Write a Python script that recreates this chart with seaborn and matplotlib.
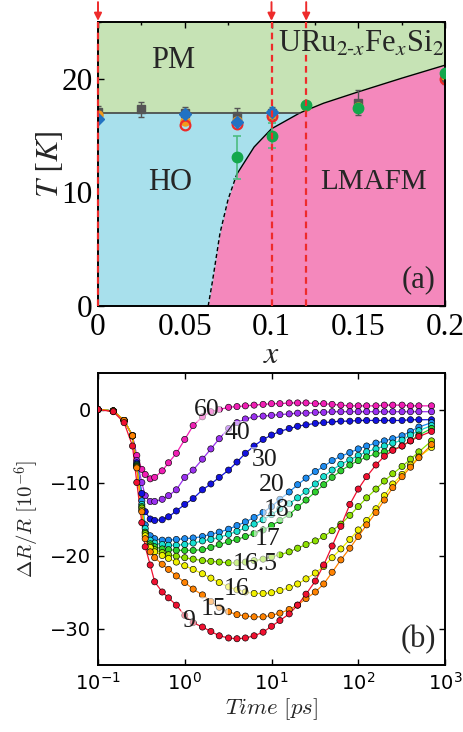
import numpy as np
import pandas as pd
import matplotlib
matplotlib.use("Agg")
import matplotlib.pyplot as plt
from matplotlib.ticker import MultipleLocator, FuncFormatter, NullLocator
import seaborn as sns

# ================= (a) phase diagram =================
x_bound = [0.0635, 0.066, 0.0703, 0.075, 0.080, 0.09, 0.100, 0.1164, 0.13, 0.150, 0.175, 0.2]
T_bound = [0.0, 2.2, 6.4, 9.4, 11.6, 14.0, 15.6, 17.0, 17.85, 18.85, 20.05, 21.2]
T_HO = 17.0
x_arrows = [0.0, 0.1, 0.12]

x_sq = [0.0, 0.025, 0.05, 0.08, 0.1, 0.15, 0.2]
T_sq = [17.1, 17.3, 17.0, 16.7, 17.0, 17.9, 20.1]
err_sq = [0.5, 0.7, 0.5, 0.7, 0.5, 1.1, 0.6]

x_or = [0.0, 0.05, 0.08, 0.1, 0.12, 0.15, 0.2]
T_or = [16.8, 16.3, 16.3, 16.9, 17.6, 17.5, 20.3]

x_red = [0.05, 0.08, 0.1, 0.2]
T_red = [15.9, 16.0, 16.7, 20.0]

x_dia = [0.0, 0.05, 0.08, 0.1]
T_dia = [16.5, 16.9, 16.2, 17.1]

x_gr = [0.08, 0.1, 0.12, 0.15, 0.2]
T_gr = [13.1, 15.0, 17.7, 17.4, 20.5]
err_gr = [1.9, 1.1, 0.0, 0.0, 0.0]

# ================= (b) transient reflectivity =================
time_ps = [0.1, 0.15, 0.2, 0.25, 0.28, 0.32, 0.35, 0.4, 0.45, 0.55,
           0.65, 0.8, 1.0, 1.25, 1.6, 2.0, 2.5, 3.2, 4.0, 5.0,
           6.3, 8.0, 10, 12.5, 16, 20, 25, 32, 40, 50,
           63, 80, 100, 125, 160, 200, 250, 320, 400, 500, 700]

temps = ["60", "40", "30", "20", "18", "17", "16.5", "16", "15", "9"]
colors = ["#f01eb4", "#9a30f0", "#1212e0", "#1e8cf0", "#18e0d0",
          "#2ed02e", "#8ee000", "#f0f000", "#ff8200", "#f01030"]

dR_60 = [0, -0.2, -1.5, -3.6, -6.3, -8.2, -8.9, -9.5, -9.3, -8.4,
         -7.3, -6.0, -4.1, -2.2, -1.0, -0.3, 0.0, 0.3, 0.4, 0.5,
         0.6, 0.7, 0.8, 0.8, 0.9, 0.9, 0.9, 0.8, 0.8, 0.7,
         0.6, 0.5, 0.5, 0.5, 0.5, 0.6, 0.6, 0.6, 0.5, 0.5, 0.5]
dR_40 = [0, -0.2, -1.5, -3.6, -7.0, -10.0, -11.8, -12.6, -12.6, -12.3,
         -11.8, -11.0, -9.3, -8.3, -6.8, -5.4, -4.0, -2.6, -1.8, -1.3,
         -1.0, -0.9, -0.8, -0.7, -0.6, -0.5, -0.5, -0.4, -0.4, -0.3,
         -0.3, -0.3, -0.3, -0.3, -0.3, -0.3, -0.3, -0.3, -0.3, -0.3, -0.3]
dR_30 = [0, -0.2, -1.5, -3.6, -7.3, -11.5, -14.0, -15.0, -15.2, -15.1,
         -14.7, -13.9, -13.0, -12.2, -11.0, -10.2, -9.3, -8.3, -7.2, -6.0,
         -5.0, -4.1, -3.5, -3.0, -2.6, -2.3, -2.1, -1.9, -1.8, -1.7,
         -1.6, -1.6, -1.5, -1.5, -1.5, -1.5, -1.5, -1.5, -1.4, -1.4, -1.4]
dR_20 = [0, -0.2, -1.5, -3.6, -7.5, -12.5, -15.8, -17.3, -17.7, -17.9,
         -17.9, -17.8, -17.7, -17.6, -17.4, -17.1, -16.8, -16.4, -15.9, -15.4,
         -14.8, -14.1, -13.3, -12.3, -11.3, -10.3, -9.4, -8.5, -7.8, -7.0,
         -6.4, -5.9, -5.4, -5.0, -4.6, -4.3, -4.0, -3.6, -3.0, -2.4, -1.8]
dR_18 = [0, -0.2, -1.5, -3.6, -7.6, -13.0, -16.3, -17.9, -18.3, -18.5,
         -18.6, -18.6, -18.5, -18.3, -18.0, -17.8, -17.5, -17.1, -16.7, -16.2,
         -15.7, -15.1, -14.4, -13.6, -12.9, -12.1, -11.2, -10.2, -9.2, -8.3,
         -7.5, -6.9, -6.3, -5.8, -5.4, -5.0, -4.6, -4.2, -3.5, -2.9, -2.2]
dR_17 = [0, -0.2, -1.5, -3.6, -7.7, -13.3, -16.8, -18.4, -18.8, -19.1,
         -19.2, -19.3, -19.3, -19.3, -19.2, -18.9, -18.5, -18.1, -17.8, -17.4,
         -17.0, -16.5, -15.9, -15.2, -14.4, -13.4, -12.4, -11.3, -10.3, -9.3,
         -8.4, -7.6, -7.0, -6.5, -6.1, -5.8, -5.5, -5.0, -4.3, -3.5, -2.6]
dR_16p5 = [0, -0.2, -1.5, -3.6, -7.8, -13.5, -17.0, -18.7, -19.2, -19.6,
           -19.9, -20.1, -20.3, -20.5, -20.7, -20.8, -20.9, -21.0, -21.0, -20.9,
           -20.7, -20.5, -20.2, -19.9, -19.5, -19.0, -18.5, -18.0, -17.4, -16.6,
           -15.7, -14.5, -13.3, -12.1, -10.9, -9.8, -8.8, -7.8, -6.8, -5.8, -4.3]
dR_16 = [0, -0.2, -1.5, -3.6, -7.9, -13.8, -17.3, -18.9, -19.5, -20.0,
         -20.4, -20.9, -21.4, -21.9, -22.5, -23.1, -23.7, -24.3, -24.7, -25.0,
         -25.2, -25.2, -25.1, -24.8, -24.4, -23.9, -23.2, -22.4, -21.5, -20.3,
         -19.1, -17.8, -16.5, -15.2, -13.6, -11.8, -10.2, -8.9, -7.6, -6.5, -5.2]
dR_15 = [0, -0.2, -1.5, -3.6, -8.0, -14.0, -17.7, -19.5, -20.3, -21.2,
         -21.9, -22.8, -23.7, -24.6, -25.4, -26.3, -27.1, -27.7, -28.1, -28.3,
         -28.4, -28.4, -28.2, -27.9, -27.4, -26.8, -25.9, -25.0, -23.9, -22.3,
         -20.6, -19.0, -17.4, -15.8, -14.1, -12.4, -10.7, -9.2, -7.9, -6.6, -4.8]
dR_9 = [0, -0.3, -1.8, -5.0, -10.0, -15.5, -18.8, -21.3, -23.6, -25.0,
        -25.8, -26.8, -28.2, -29.2, -29.8, -30.4, -31.0, -31.3, -31.4, -31.3,
        -31.0, -30.5, -29.7, -28.9, -28.0, -26.8, -25.3, -23.5, -21.3, -18.7,
        -16.0, -13.0, -10.9, -9.2, -7.6, -6.4, -5.6, -5.0, -4.3, -3.7, -3.0]

label_t = [1.79, 4.0, 8.4, 10.0, 11.5, 9.1, 6.5, 4.0, 2.14, 1.1]
label_v = [0.0, -3.2, -6.85, -10.3, -13.7, -17.8, -21.2, -24.6, -27.3, -29.0]

curves = [dR_60, dR_40, dR_30, dR_20, dR_18, dR_17, dR_16p5, dR_16, dR_15, dR_9]
df = pd.concat([pd.DataFrame({"Time": time_ps, "dR": c, "T": t})
                for t, c in zip(temps, curves)], ignore_index=True)
palette = dict(zip(temps, colors))

# ================= style =================
sns.set_theme(style="ticks")
plt.rcParams.update({
    "font.family": ["DejaVu Sans"],
    "axes.linewidth": 1.4,
    "axes.edgecolor": "black",
    "xtick.direction": "in",
    "ytick.direction": "in",
    "xtick.top": True,
    "ytick.right": True,
    "xtick.color": "black",
    "ytick.color": "black",
})
SERIF = "Liberation Serif"

fig = plt.figure(figsize=(4.63, 7.32), dpi=100)
W, H = 463, 732
ax1 = fig.add_axes([98 / W, (H - 306) / H, 347 / W, 284 / H])
ax2 = fig.add_axes([98 / W, (H - 665) / H, 347 / W, 292 / H])

# --- panel (a) ---
c_pm, c_ho, c_af = "#c6e3b5", "#a8e0ec", "#f488bc"
ax1.set_facecolor(c_pm)
ax1.fill_between([0, x_bound[7]], 0, T_HO, color=c_ho, lw=0, zorder=1)
ax1.fill_between(x_bound, 0, T_bound, color=c_af, lw=0, zorder=1.1)
ax1.plot(x_bound[:5], T_bound[:5], color="black", ls=(0, (3, 2)), lw=1.0, zorder=2)
ax1.plot(x_bound[4:], T_bound[4:], color="black", lw=1.0, zorder=2)
ax1.plot([0, x_bound[7]], [T_HO, T_HO], color="#444444", lw=1.2, zorder=2)

ax1.errorbar(x_sq, T_sq, yerr=err_sq, fmt="s", color="#555555", ms=5.5,
             capsize=2.5, elinewidth=1, capthick=1, zorder=3)
ax1.plot(x_or, T_or, "o", color="#f39a1c", ms=6.5, zorder=4)
ax1.plot(x_red, T_red, "o", mfc="none", mec="#ec2a2a", mew=1.6, ms=7, zorder=4)
ax1.plot(x_dia, T_dia, "D", color="#2272c3", ms=6.5, zorder=5)
ax1.errorbar(x_gr, T_gr, yerr=err_gr, fmt="o", color="#13a84c", ecolor="#4cbd80",
             ms=7.5, capsize=3, elinewidth=1.2, capthick=1.2, zorder=6)

for xa in x_arrows:
    ax1.axvline(xa, color="#ee2b2b", ls=(0, (3, 2)), lw=1.6, zorder=7, clip_on=False)
    ax1.annotate("", xy=(xa, 25.1), xytext=(xa, 26.75),
                 arrowprops=dict(arrowstyle="-|>", color="#ee2b2b", lw=1.4,
                                 mutation_scale=11, shrinkA=0, shrinkB=0),
                 annotation_clip=False)

ax1.set_xlim(0, 0.2)
ax1.set_ylim(0, 25)
ax1.xaxis.set_major_locator(MultipleLocator(0.05))
ax1.xaxis.set_minor_locator(MultipleLocator(0.025))
ax1.yaxis.set_major_locator(MultipleLocator(10))
ax1.yaxis.set_minor_locator(MultipleLocator(5))
ax1.xaxis.set_major_formatter(FuncFormatter(lambda v, p: f"{v:g}"))
ax1.tick_params(which="major", length=4, width=1, labelsize=22.5,
                labelfontfamily=SERIF)
ax1.tick_params(axis="x", which="major", pad=5)
ax1.tick_params(axis="y", which="major", pad=4)
ax1.tick_params(which="minor", length=2.5, width=1)
for s in ax1.spines.values():
    s.set_zorder(6)

ax1.set_xlabel("$x$", fontsize=23, math_fontfamily="stix", labelpad=-2)
ax1.set_ylabel(r"$T\ [K]$", fontsize=23, math_fontfamily="stix", labelpad=-3)

txt = dict(fontfamily=SERIF, fontsize=22, ha="center", va="center", zorder=8)
ax1.text(0.0434, 21.6, "PM", **txt)
ax1.text(0.0415, 10.9, "HO", **txt)
ax1.text(0.1587, 10.9, "LMAFM", fontfamily=SERIF, fontsize=21, ha="center",
         va="center", zorder=8)
ax1.text(0.1845, 2.3, "(a)", **txt)
ax1.text(0.152, 22.35, r"URu$_{2\text{-}x}$Fe$_{x}$Si$_{2}$", fontfamily=SERIF,
         fontsize=22, ha="center", va="baseline", math_fontfamily="stix", zorder=8)

# --- panel (b) ---
ax2.set_xscale("log")
sns.lineplot(data=df, x="Time", y="dR", hue="T", palette=palette, estimator=None,
             sort=False, legend=False, lw=0.9, ax=ax2, zorder=2)
sns.scatterplot(data=df, x="Time", y="dR", hue="T", palette=palette, s=20,
                edgecolor="black", linewidth=0.45, legend=False, ax=ax2, zorder=3)

for t, lt, lv in zip(temps, label_t, label_v):
    ax2.text(lt, lv, t, fontfamily=SERIF, fontsize=18.5, ha="center", va="center",
             color="#1a1a1a", zorder=5,
             bbox=dict(boxstyle="square,pad=0.05", fc="white", ec="none", alpha=0.55))
ax2.text(0.923, 0.086, "(b)", transform=ax2.transAxes, fontfamily=SERIF,
         fontsize=22, ha="center", va="center", zorder=5)

ax2.set_xlim(0.1, 1000)
ax2.set_ylim(-35, 5)
ax2.set_yticks([-30, -20, -10, 0])
ax2.xaxis.set_minor_locator(NullLocator())
ax2.tick_params(which="major", length=4, width=1, labelsize=14, pad=5)
ax2.set_xlabel(r"$Time\ [ps]$", fontsize=16.5, math_fontfamily="cm", labelpad=2)
ax2.set_ylabel(r"$\Delta R/R\ [10^{-6}]$", fontsize=15, math_fontfamily="cm", labelpad=6)

fig.savefig("out.png", dpi=100, facecolor="white")
